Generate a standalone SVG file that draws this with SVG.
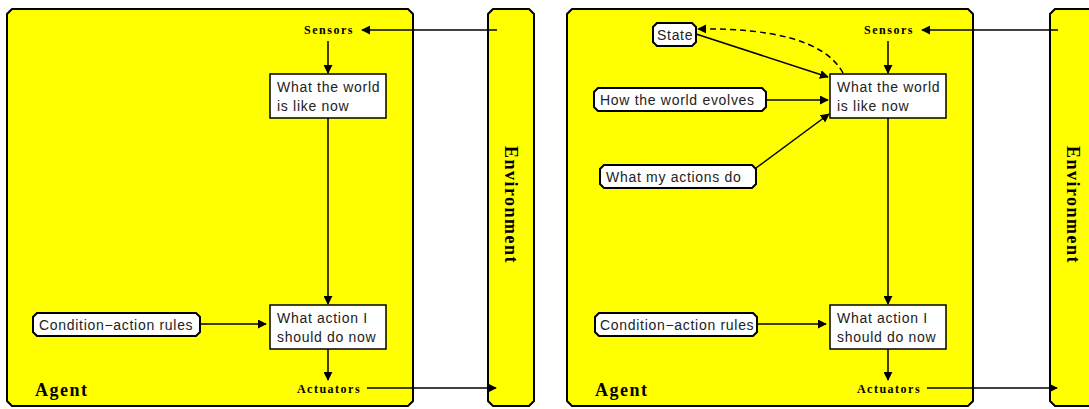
<svg xmlns="http://www.w3.org/2000/svg" width="1089" height="409" viewBox="0 0 1089 409">
  <defs>
    <marker id="arr" viewBox="0 0 10 10" refX="9" refY="5" markerWidth="9" markerHeight="9" markerUnits="userSpaceOnUse" orient="auto">
      <path d="M0,0 L10,5 L0,10 z" fill="#000"/>
    </marker>
    <style>
      .frame { fill: #ffff00; stroke: #000; stroke-width: 2; }
      .box { fill: #fff; stroke: #000; stroke-width: 1.5; }
      .pill { fill: #fff; stroke: #000; stroke-width: 2; }
      .lbl { font-family: "Liberation Sans", Arial, sans-serif; font-size: 14px; letter-spacing: 0.7px; fill: #222; }
      .io { font-family: "Liberation Serif", "Times New Roman", serif; font-size: 12px; letter-spacing: 1.5px; font-weight: bold; fill: #000; }
      .big { font-family: "Liberation Serif", "Times New Roman", serif; font-size: 18px; letter-spacing: 1.5px; font-weight: bold; fill: #000; }
      .ln { stroke: #000; stroke-width: 1.5; fill: none; }
      .ar { marker-end: url(#arr); }
      .dash { stroke-dasharray: 6 4; }
    </style>
  </defs>

  <!-- left: simple reflex agent -->
  <g id="agent1">
    <path class="frame" d="M12,9 H408 L413,14 V401 L408,406 H12 L7,401 V14 Z"/>
    <text class="big" x="35" y="396">Agent</text>
  </g>
  <g id="env1">
    <path class="frame" d="M493,9 H529 L534,14 V401 L529,406 H493 L488,401 V14 Z"/>
    <text class="big" transform="translate(505,205) rotate(90)" text-anchor="middle">Environment</text>
  </g>
  <g id="sensors1"><text class="io" x="329" y="34" text-anchor="middle">Sensors</text></g>
  <g id="actuators1"><text class="io" x="329" y="393" text-anchor="middle">Actuators</text></g>
  <g id="world1">
    <rect class="box" x="270" y="74" width="116" height="44"/>
    <text class="lbl" x="277" y="92">What the world</text>
    <text class="lbl" x="277" y="111">is like now</text>
  </g>
  <g id="action1">
    <rect class="box" x="270" y="305" width="116" height="44"/>
    <text class="lbl" x="277" y="323">What action I</text>
    <text class="lbl" x="277" y="342">should do now</text>
  </g>
  <g id="rules1">
    <path class="pill" d="M37,313 H196 L200,317 V332 L196,336 H37 L33,332 V317 Z"/>
    <text class="lbl" x="39" y="330">Condition−action rules</text>
  </g>

  <!-- right: model-based reflex agent -->
  <g id="agent2">
    <path class="frame" d="M572,9 H968 L973,14 V401 L968,406 H572 L567,401 V14 Z"/>
    <text class="big" x="595" y="396">Agent</text>
  </g>
  <g id="env2">
    <path class="frame" d="M1055,9 H1091 L1096,14 V401 L1091,406 H1055 L1050,401 V14 Z"/>
    <text class="big" transform="translate(1067,205) rotate(90)" text-anchor="middle">Environment</text>
  </g>
  <g id="sensors2"><text class="io" x="889" y="34" text-anchor="middle">Sensors</text></g>
  <g id="actuators2"><text class="io" x="889" y="393" text-anchor="middle">Actuators</text></g>
  <g id="world2">
    <rect class="box" x="830" y="74" width="116" height="44"/>
    <text class="lbl" x="837" y="92">What the world</text>
    <text class="lbl" x="837" y="111">is like now</text>
  </g>
  <g id="action2">
    <rect class="box" x="830" y="305" width="116" height="44"/>
    <text class="lbl" x="837" y="323">What action I</text>
    <text class="lbl" x="837" y="342">should do now</text>
  </g>
  <g id="state">
    <path class="pill" d="M657,23 H692 L696,27 V42 L692,46 H657 L653,42 V27 Z"/>
    <text class="lbl" x="657" y="40">State</text>
  </g>
  <g id="evolves">
    <path class="pill" d="M598,88 H762 L766,92 V107 L762,111 H598 L594,107 V92 Z"/>
    <text class="lbl" x="600" y="105">How the world evolves</text>
  </g>
  <g id="actionsdo">
    <path class="pill" d="M604,165 H752 L756,169 V184 L752,188 H604 L600,184 V169 Z"/>
    <text class="lbl" x="606" y="182">What my actions do</text>
  </g>
  <g id="rules2">
    <path class="pill" d="M599,313 H753 L757,317 V332 L753,336 H599 L595,332 V317 Z"/>
    <text class="lbl" x="600" y="330">Condition−action rules</text>
  </g>

  <g id="connectors">
    <!-- left -->
    <line class="ln ar" x1="497" y1="30" x2="362" y2="30"/>
    <line class="ln ar" x1="328" y1="41" x2="328" y2="73"/>
    <line class="ln ar" x1="328" y1="118" x2="328" y2="304"/>
    <line class="ln ar" x1="200" y1="324" x2="266" y2="324"/>
    <line class="ln ar" x1="328" y1="349" x2="328" y2="380"/>
    <line class="ln ar" x1="367" y1="388" x2="496" y2="388"/>
    <!-- right -->
    <line class="ln ar" x1="1058" y1="30" x2="922" y2="30"/>
    <line class="ln ar" x1="888" y1="41" x2="888" y2="73"/>
    <line class="ln ar" x1="888" y1="118" x2="888" y2="304"/>
    <line class="ln ar" x1="757" y1="324" x2="826" y2="324"/>
    <line class="ln ar" x1="888" y1="349" x2="888" y2="380"/>
    <line class="ln ar" x1="927" y1="388" x2="1057" y2="388"/>
    <line class="ln ar" x1="696" y1="34" x2="828" y2="77"/>
    <line class="ln ar" x1="766" y1="100" x2="828" y2="100"/>
    <line class="ln ar" x1="756" y1="168" x2="829" y2="114"/>
    <path class="ln ar dash" d="M843,73 C825,40 770,28 698,29"/>
  </g>
</svg>
